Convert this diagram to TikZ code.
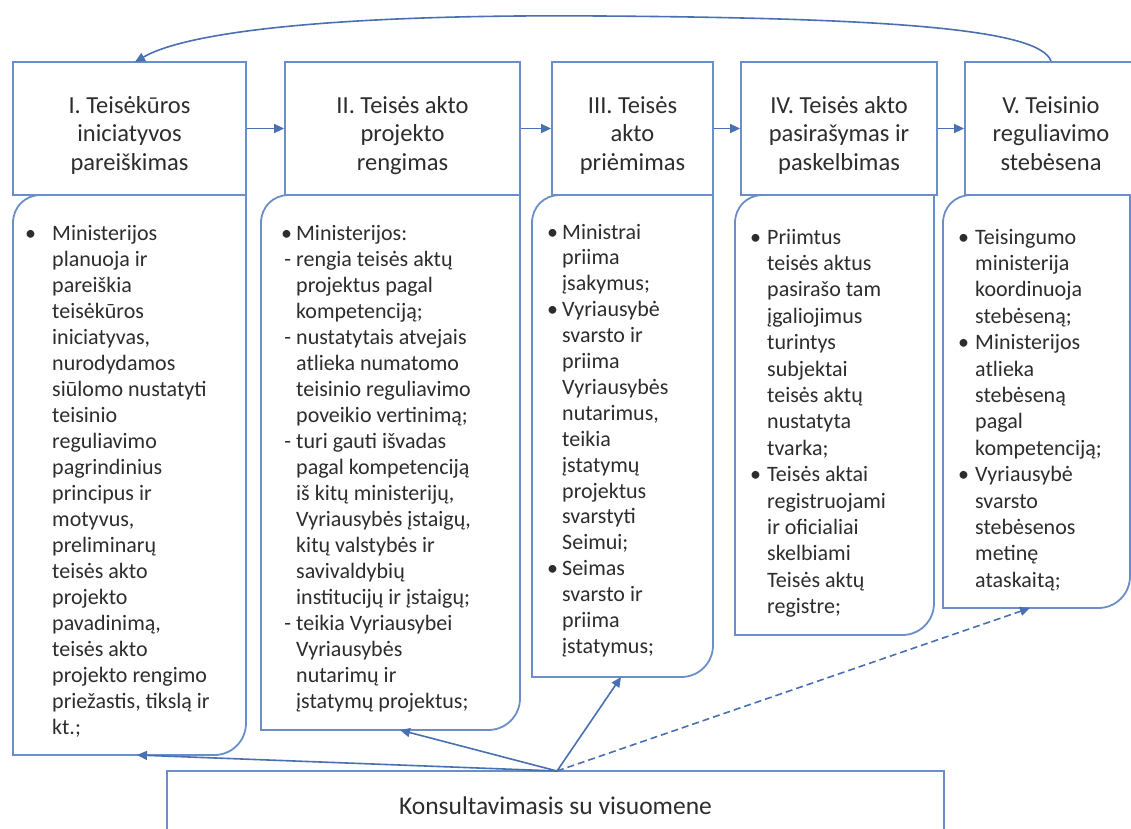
\documentclass[tikz,border=0pt]{standalone}
\usepackage{fontspec}
\setmainfont{Carlito}
\usetikzlibrary{arrows.meta}
\definecolor{boxc}{RGB}{108,142,200}
\definecolor{arrc}{RGB}{72,112,178}
\definecolor{txtc}{RGB}{45,45,45}
\newcommand{\bul}[1]{\llap{\makebox[#1][l]{•}}}
\newcommand{\dsh}{\llap{- }}
\newcommand{\hdrtext}[1]{\raisebox{-14pt}[0pt][0pt]{\begin{tabular}{@{}c@{}}#1\end{tabular}}}
\newcommand{\bodybox}[4]{%
  \draw[boxline] (#1,#4) -- (#1,#2+28) .. controls (#1,#2+12) and (#1+12,#2) .. (#1+28,#2)
    -- (#3,#2) -- (#3,#4-32) .. controls (#3,#4-14) and (#3-14,#4) .. (#3-32,#4) -- cycle;}
\tikzset{
  boxline/.style={draw=boxc, line width=1.8pt, fill=white},
  hdrbox/.style={draw=boxc, line width=1.8pt, fill=white, inner sep=0pt,
    align=center, text=txtc, font={\fontsize{24.5}{28.5}\selectfont}},
  bodytext/.style={anchor=base west, inner sep=0pt, text=txtc,
    font={\fontsize{22}{26}\selectfont}},
  arr/.style={draw=arrc, line width=1.6pt, -{Triangle[length=10pt,width=9pt]}},
}
\begin{document}
\begin{tikzpicture}[x=1pt,y=-1pt]
\useasboundingbox (0,0) rectangle (1131,828);

% body boxes
\bodybox{13}{195}{246}{755}
\bodybox{261}{195}{520}{730}
\bodybox{532}{195}{713}{677}
\bodybox{735}{195}{934}{635}
\bodybox{943}{195}{1130}{608}

% header boxes
\node[hdrbox, minimum width=233pt, minimum height=133pt] (h1) at (129.5,128.5)
  {\hdrtext{I. Teisėkūros\\iniciatyvos\\pareiškimas}};
\node[hdrbox, minimum width=235pt, minimum height=133pt] (h2) at (402.5,128.5)
  {\hdrtext{II. Teisės akto\\projekto\\rengimas}};
\node[hdrbox, minimum width=161pt, minimum height=133pt] (h3) at (632.5,128.5)
  {\hdrtext{III. Teisės\\akto\\priėmimas}};
\node[hdrbox, minimum width=196pt, minimum height=133pt] (h4) at (839,128.5)
  {\hdrtext{IV. Teisės akto\\pasirašymas ir\\paskelbimas}};
\node[hdrbox, minimum width=172pt, minimum height=133pt] (h5) at (1051,128.5)
  {\hdrtext{V. Teisinio\\reguliavimo\\stebėsena}};

% body texts
\node[bodytext] (t1) at (52,240) {\vtop{\baselineskip=26pt
  \hbox{\bul{27pt}Ministerijos}
  \hbox{planuoja ir}
  \hbox{pareiškia}
  \hbox{teisėkūros}
  \hbox{iniciatyvas,}
  \hbox{nurodydamos}
  \hbox{siūlomo nustatyti}
  \hbox{teisinio}
  \hbox{reguliavimo}
  \hbox{pagrindinius}
  \hbox{principus ir}
  \hbox{motyvus,}
  \hbox{preliminarų}
  \hbox{teisės akto}
  \hbox{projekto}
  \hbox{pavadinimą,}
  \hbox{teisės akto}
  \hbox{projekto rengimo}
  \hbox{priežastis, tikslą ir}
  \hbox{kt.;}}};
\node[bodytext] (t2) at (296,240) {\vtop{\baselineskip=26pt
  \hbox{\bul{15pt}Ministerijos:}
  \hbox{\dsh rengia teisės aktų}
  \hbox{projektus pagal}
  \hbox{kompetenciją;}
  \hbox{\dsh nustatytais atvejais}
  \hbox{atlieka numatomo}
  \hbox{teisinio reguliavimo}
  \hbox{poveikio vertinimą;}
  \hbox{\dsh turi gauti išvadas}
  \hbox{pagal kompetenciją}
  \hbox{iš kitų ministerijų,}
  \hbox{Vyriausybės įstaigų,}
  \hbox{kitų valstybės ir}
  \hbox{savivaldybių}
  \hbox{institucijų ir įstaigų;}
  \hbox{\dsh teikia Vyriausybei}
  \hbox{Vyriausybės}
  \hbox{nutarimų ir}
  \hbox{įstatymų projektus;}}};
\node[bodytext] (t3) at (562,239) {\vtop{\baselineskip=25.9pt
  \hbox{\bul{15pt}Ministrai}
  \hbox{priima}
  \hbox{įsakymus;}
  \hbox{\bul{15pt}Vyriausybė}
  \hbox{svarsto ir}
  \hbox{priima}
  \hbox{Vyriausybės}
  \hbox{nutarimus,}
  \hbox{teikia}
  \hbox{įstatymų}
  \hbox{projektus}
  \hbox{svarstyti}
  \hbox{Seimui;}
  \hbox{\bul{15pt}Seimas}
  \hbox{svarsto ir}
  \hbox{priima}
  \hbox{įstatymus;}}};
\node[bodytext] (t4) at (767,244) {\vtop{\baselineskip=26.4pt
  \hbox{\bul{17pt}Priimtus}
  \hbox{teisės aktus}
  \hbox{pasirašo tam}
  \hbox{įgaliojimus}
  \hbox{turintys}
  \hbox{subjektai}
  \hbox{teisės aktų}
  \hbox{nustatyta}
  \hbox{tvarka;}
  \hbox{\bul{17pt}Teisės aktai}
  \hbox{registruojami}
  \hbox{ir oficialiai}
  \hbox{skelbiami}
  \hbox{Teisės aktų}
  \hbox{registre;}}};
\node[bodytext] (t5) at (975,244) {\vtop{\baselineskip=26.4pt
  \hbox{\bul{17pt}Teisingumo}
  \hbox{ministerija}
  \hbox{koordinuoja}
  \hbox{stebėseną;}
  \hbox{\bul{17pt}Ministerijos}
  \hbox{atlieka}
  \hbox{stebėseną}
  \hbox{pagal}
  \hbox{kompetenciją;}
  \hbox{\bul{17pt}Vyriausybė}
  \hbox{svarsto}
  \hbox{stebėsenos}
  \hbox{metinę}
  \hbox{ataskaitą;}}};

% consultation box
\node[hdrbox, minimum width=777pt, minimum height=70pt,
  font={\fontsize{25.5}{30}\selectfont}] (k) at (555.5,806) {Konsultavimasis su visuomene};

% header arrows
\draw[arr] (h1.east) -- (h2.west);
\draw[arr] (h2.east) -- (h3.west);
\draw[arr] (h3.east) -- (h4.west);
\draw[arr] (h4.east) -- (h5.west);

% feedback arc
\coordinate (t1top) at (135,62);
\draw[arr] (h5.north) .. controls (1040,30) and (900,18) .. (600,16)
  .. controls (350,14) and (190,30) .. (t1top);

% consultation arrows
\coordinate (ks) at (557,771);
\coordinate (e1) at (137,755);
\coordinate (e2) at (400,730);
\coordinate (e3) at (621,677);
\coordinate (e5) at (1030,608);
\draw[arr] (ks) -- (e1);
\draw[arr] (ks) -- (e2);
\draw[arr] (ks) -- (e3);
\draw[arr, dashed, dash pattern=on 7pt off 4pt] (ks) -- (e5);
\end{tikzpicture}
\end{document}
